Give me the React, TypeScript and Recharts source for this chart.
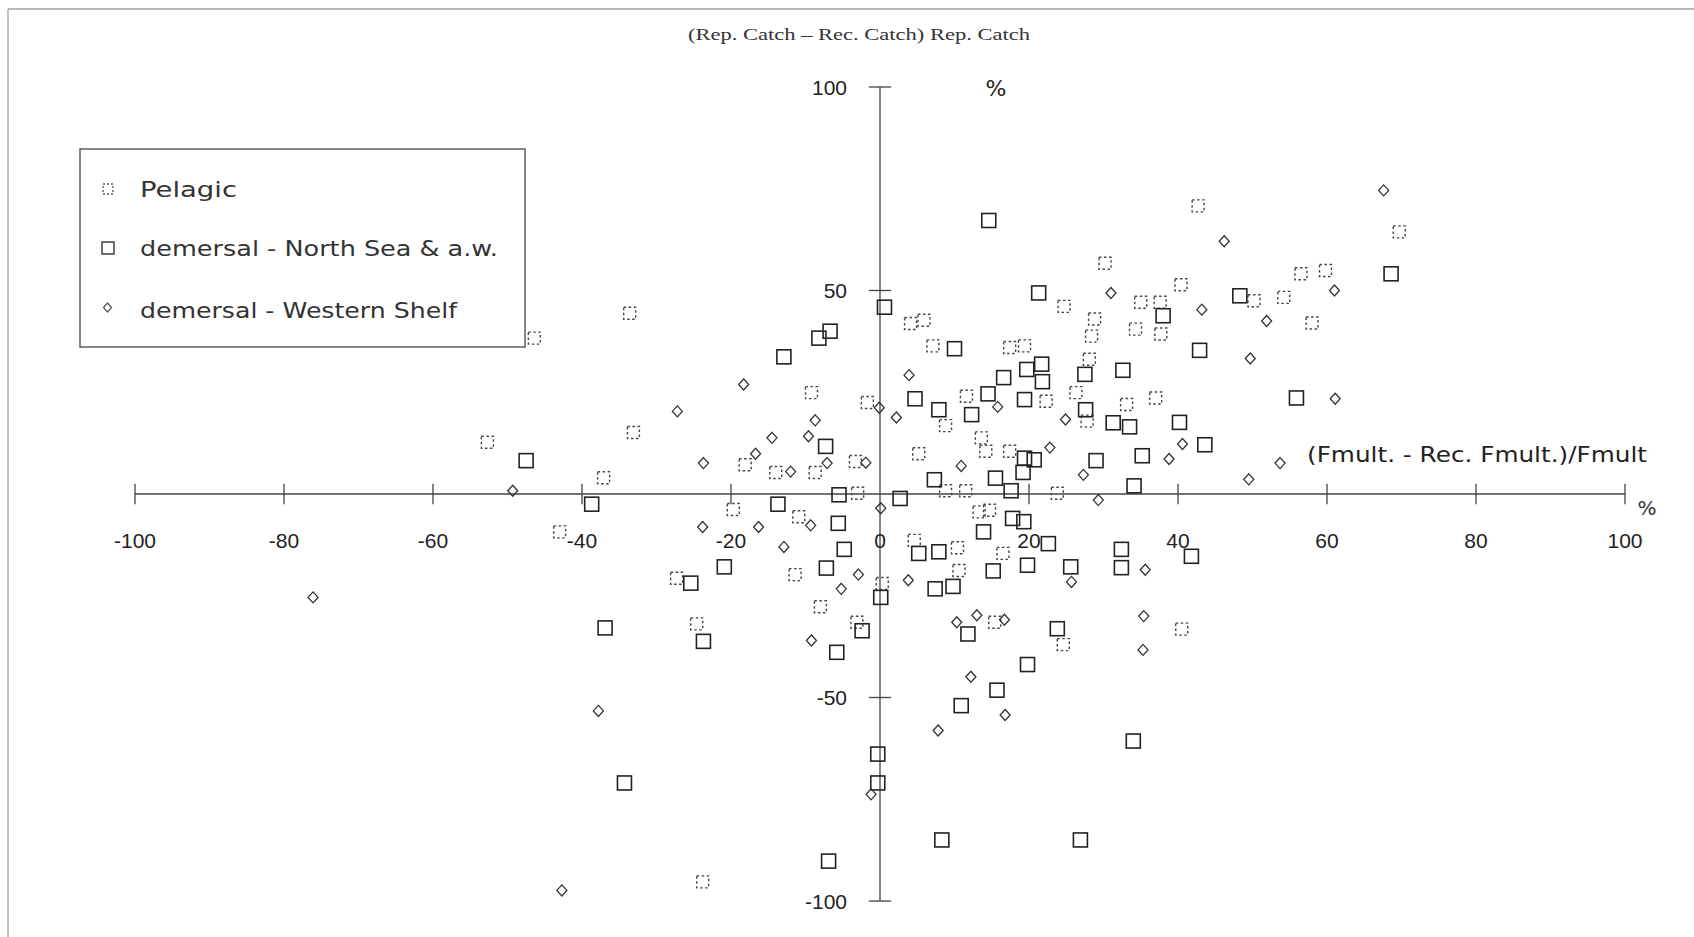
import React from "react";
import { ScatterChart, Scatter, XAxis, YAxis, ReferenceLine, ReferenceDot } from "recharts";

const xTicks = [-100, -80, -60, -40, -20, 0, 20, 40, 60, 80, 100];
const yTicks = [-100, -50, 50, 100];

// [Fmult diff %, catch diff %]
const pelagic: [number, number][] = [
  [-33.6, 44.4], [-46.4, 38.3], [-9.2, 24.9], [-1.7, 22.5], [-33.1, 15.1], [-52.7, 12.7],
  [-18.1, 7.2], [-14, 5.3], [-8.7, 5.3], [-3.3, 8], [-37.1, 4], [-43, -9.3], [-19.7, -3.8],
  [-10.9, -5.6], [-27.3, -20.7], [-11.4, -19.8], [-8, -27.7], [-3.1, -31.5], [-24.6, -31.9],
  [-3, 0.2], [-23.8, -95.3], [40.5, -33.2], [24.6, -37], [15.4, -31.5], [8.8, 0.8], [11.5, 0.8],
  [23.8, 0.2], [13.3, -4.4], [14.7, -4], [10.4, -13.2], [4.6, -11.4], [16.5, -14.6], [10.6, -18.8],
  [0.3, -22], [42.7, 70.8], [30.2, 56.7], [24.7, 46.1], [40.4, 51.4], [35, 47.1], [37.6, 47.1],
  [50.2, 47.5], [54.2, 48.3], [28.8, 43], [28.4, 38.8], [28.1, 33.1], [34.3, 40.5], [37.7, 39.3],
  [4.1, 41.9], [5.9, 42.7], [7.1, 36.4], [17.4, 36], [19.4, 36.4], [11.6, 24], [22.3, 22.8],
  [8.8, 16.8], [26.3, 24.9], [27.8, 17.9], [33.1, 22], [37, 23.6], [17.4, 10.5], [13.6, 13.8],
  [14.2, 10.5], [5.2, 9.9], [69.7, 64.4], [56.5, 54.1], [59.8, 54.9], [58, 42],
];

const demersalNS: [number, number][] = [
  [14.6, 67.2], [0.6, 45.9], [-6.7, 40], [-8.2, 38.3], [-12.9, 33.7], [21.3, 49.4], [68.6, 54.1],
  [48.3, 48.7], [38, 43.8], [42.9, 35.3], [32.6, 30.4], [55.9, 23.6], [10, 35.7], [19.7, 30.6],
  [21.7, 31.9], [21.8, 27.6], [16.6, 28.6], [27.5, 29.4], [4.7, 23.4], [7.9, 20.7], [14.5, 24.6],
  [19.4, 23.2], [12.3, 19.5], [27.6, 20.7], [31.3, 17.5], [33.5, 16.5], [40.2, 17.6], [43.6, 12.1],
  [35.2, 9.4], [29, 8.2], [19.4, 8.8], [20.7, 8.4], [-7.3, 11.7], [-47.5, 8.2], [-38.7, -2.5],
  [-13.7, -2.5], [-5.6, -7.2], [-4.8, -13.6], [-20.9, -17.9], [-25.4, -21.9], [-7.2, -18.2],
  [-2.4, -33.6], [-36.9, -32.9], [-23.7, -36.2], [-5.8, -38.9], [-0.3, -63.9], [-0.3, -71],
  [-34.3, -71], [8.3, -85], [26.9, -85], [-6.9, -90.2], [10.9, -52], [15.7, -48.2], [19.8, -41.9],
  [34, -60.7], [23.8, -33.1], [11.8, -34.4], [7.3, 3.5], [2.7, -1.1], [15.5, 3.9], [17.6, 0.8],
  [19.2, 5.3], [34.1, 2], [17.8, -6], [19.3, -6.8], [13.9, -9.3], [22.6, -12.2], [5.2, -14.6],
  [7.9, -14.2], [15.2, -18.9], [19.8, -17.5], [25.6, -17.9], [32.4, -13.6], [32.4, -18.1],
  [41.8, -15.3], [7.4, -23.3], [9.8, -22.7], [0.1, -25.4], [-5.5, -0.2],
];

const westernShelf: [number, number][] = [
  [-18.3, 26.9], [-27.2, 20.3], [-8.7, 18.1], [-14.5, 13.8], [-9.6, 14.2], [-23.7, 7.6],
  [-16.7, 9.9], [-12, 5.5], [-1.9, 7.7], [-7.1, 7.6], [-49.3, 0.8], [-23.8, -8.1], [-16.3, -8.1],
  [-9.3, -7.7], [-12.9, -13], [-2.9, -19.8], [-5.2, -23.3], [-9.2, -36], [-37.8, -53.3],
  [-76.1, -25.4], [-1.2, -73.8], [-42.7, -97.4], [7.8, -58.1], [16.8, -54.3], [12.2, -44.9],
  [35.4, -30], [35.3, -38.3], [13, -29.8], [16.7, -30.9], [10.3, -31.5], [29.3, -1.5], [49.5, 3.6],
  [27.3, 4.7], [25.7, -21.6], [35.6, -18.6], [3.8, -21.2], [0.1, -3.5], [67.6, 74.6], [46.2, 62.1],
  [31, 49.4], [43.2, 45.3], [51.9, 42.5], [49.7, 33.3], [61, 50], [61.1, 23.4], [3.9, 29.2],
  [15.8, 21.4], [-0.1, 21.2], [2.2, 18.8], [24.9, 18.3], [40.6, 12.3], [38.8, 8.6], [53.7, 7.6],
  [22.8, 11.4], [10.9, 6.9],
];

const toPoints = (arr: [number, number][]) => arr.map(([x, y]) => ({ x, y }));

const labelFont = "'Liberation Sans', Arial, sans-serif";
const roundFont = "'DejaVu Sans', 'Noto Sans', sans-serif";

const PelagicShape = (p: any) => (
  <rect x={p.cx - 6} y={p.cy - 6} width={12} height={12} fill="none" stroke="#444"
    strokeWidth={1.4} strokeDasharray="2.5 2.5" />
);

const SquareShape = (p: any) => (
  <rect x={p.cx - 7} y={p.cy - 7} width={14} height={14} fill="none" stroke="#222" strokeWidth={1.6} />
);

const DiamondShape = (p: any) => (
  <path d={`M${p.cx},${p.cy - 5.5}L${p.cx + 5},${p.cy}L${p.cx},${p.cy + 5.5}L${p.cx - 5},${p.cy}Z`}
    fill="none" stroke="#333" strokeWidth={1.3} />
);

export default function App() {
  return (
    <div style={{ position: "relative", width: 1694, height: 937, background: "#fff" }}>
      <style>{`body{margin:0}`}</style>
      <ScatterChart width={1694} height={937} margin={{ top: 87, right: 69, bottom: 36, left: 135 }}>
        <XAxis type="number" dataKey="x" domain={[-100, 100]} hide />
        <YAxis type="number" dataKey="y" domain={[-100, 100]} hide />

        <ReferenceLine segment={[{ x: -100, y: 0 }, { x: 100, y: 0 }]} stroke="#444" strokeWidth={1.3} />
        <ReferenceLine segment={[{ x: 0, y: -100 }, { x: 0, y: 100 }]} stroke="#444" strokeWidth={1.3} />
        {xTicks.filter((t) => t !== 0).map((t) => (
          <ReferenceLine key={"xt" + t} segment={[{ x: t, y: -2.5 }, { x: t, y: 2.5 }]} stroke="#444" strokeWidth={1.3} />
        ))}
        {yTicks.map((t) => (
          <ReferenceLine key={"yt" + t} segment={[{ x: -1.5, y: t }, { x: 1.5, y: t }]} stroke="#444" strokeWidth={1.3} />
        ))}
        {xTicks.map((t) => (
          <ReferenceDot key={"xl" + t} x={t} y={0} r={0}
            shape={(p: any) => (
              <text x={p.cx} y={p.cy + 54} textAnchor="middle" fontSize={21} fontFamily={labelFont} fill="#222">{t}</text>
            )} />
        ))}
        {yTicks.map((t) => (
          <ReferenceDot key={"yl" + t} x={0} y={t} r={0}
            shape={(p: any) => (
              <text x={p.cx - 33} y={p.cy + 7.5} textAnchor="end" fontSize={21} fontFamily={labelFont} fill="#222">{t}</text>
            )} />
        ))}

        <Scatter name="Pelagic" data={toPoints(pelagic)} shape={PelagicShape} isAnimationActive={false} />
        <Scatter name="demersal - North Sea & a.w." data={toPoints(demersalNS)} shape={SquareShape} isAnimationActive={false} />
        <Scatter name="demersal - Western Shelf" data={toPoints(westernShelf)} shape={DiamondShape} isAnimationActive={false} />
      </ScatterChart>

      <svg width={1694} height={937} style={{ position: "absolute", left: 0, top: 0, pointerEvents: "none" }}>
        <line x1={8} y1={9} x2={1694} y2={9} stroke="#777" strokeWidth={1.2} />
        <line x1={8} y1={9} x2={8} y2={937} stroke="#888" strokeWidth={1} />

        <text x={859} y={40} textAnchor="middle" fontSize={16} fontFamily="'Liberation Serif', 'Times New Roman', serif"
          fill="#333" textLength={342} lengthAdjust="spacingAndGlyphs">(Rep. Catch – Rec. Catch) Rep. Catch</text>

        <text x={996} y={96} textAnchor="middle" fontSize={22} fontFamily={roundFont} fill="#222">%</text>
        <text x={1307} y={462} fontSize={22} fontFamily={roundFont} fill="#222" textLength={340}
          lengthAdjust="spacingAndGlyphs">(Fmult. - Rec. Fmult.)/Fmult</text>
        <text x={1647} y={515} textAnchor="middle" fontSize={20} fontFamily={roundFont} fill="#333">%</text>

        <rect x={80} y={149} width={445} height={198} fill="none" stroke="#444" strokeWidth={1.3} />
        <rect x={103} y={184} width={10} height={10} fill="none" stroke="#555" strokeWidth={1.3} strokeDasharray="2 2" />
        <text x={140} y={197} fontSize={22} fontFamily={roundFont} fill="#333" textLength={97}
          lengthAdjust="spacingAndGlyphs">Pelagic</text>
        <rect x={102} y={242} width={12} height={12} fill="none" stroke="#333" strokeWidth={1.4} />
        <text x={140} y={256} fontSize={22} fontFamily={roundFont} fill="#333" textLength={358}
          lengthAdjust="spacingAndGlyphs">demersal - North Sea &amp; a.w.</text>
        <path d="M107.5,303 L111.5,307.5 L107.5,312 L103.5,307.5 Z" fill="none" stroke="#555" strokeWidth={1.2} />
        <text x={140} y={318} fontSize={22} fontFamily={roundFont} fill="#333" textLength={317}
          lengthAdjust="spacingAndGlyphs">demersal - Western Shelf</text>
      </svg>
    </div>
  );
}
